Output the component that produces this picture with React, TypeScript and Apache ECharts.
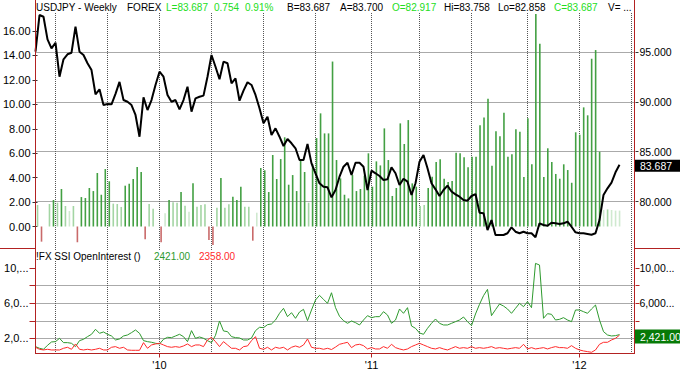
import React, { useEffect, useRef } from "react";
import * as echarts from "echarts";

// Weekly categories (Friday dated), starting 2009-05-29
const START = Date.UTC(2009, 4, 29);
const WEEK = 7 * 86400000;
const N_CAT = 151;
const weeks: string[] = Array.from({ length: N_CAT }, (_, i) =>
  new Date(START + i * WEEK).toISOString().slice(0, 10)
);

// USDJPY weekly close
const prices: number[] = [
  95.03, 98.71, 98.54, 96.27, 95.37, 95.93, 92.52, 94.27, 94.77, 94.93,
  97.54, 95.03, 94.7, 93.87, 93.19, 90.76, 91.26, 89.68, 89.78, 89.75,
  90.8, 92.0, 90.18, 90.01, 89.68, 88.68, 86.5, 90.45, 89.18, 90.18,
  91.69, 93.02, 92.52, 90.69, 90.01, 90.18, 89.25, 90.18, 91.52, 89.01,
  90.35, 90.51, 90.62, 92.52, 94.7, 93.52, 92.26, 94.03, 93.87, 91.86,
  92.36, 90.11, 91.12, 91.97, 91.69, 90.69, 89.35, 87.85, 88.51, 86.67,
  87.34, 86.5, 85.57, 86.27, 85.84, 85.34, 84.16, 84.16, 85.77, 83.83,
  82.83, 81.83, 81.48, 81.42, 80.42, 81.15, 82.49, 83.49, 83.89, 82.66,
  83.89, 83.89, 83.49, 81.15, 83.09, 82.83, 82.56, 82.16, 82.23, 83.43,
  82.83, 81.66, 82.29, 81.99, 80.65, 81.83, 83.99, 84.67, 83.33, 81.83,
  81.22, 80.55, 81.15, 81.59, 81.0, 80.72, 80.48, 80.15, 80.08, 80.55,
  80.75, 78.88, 78.82, 77.14, 78.14, 76.64, 76.64, 76.64, 76.81, 77.41,
  76.97, 76.81, 76.97, 76.81, 76.81, 76.41, 77.81, 77.64, 77.57, 77.87,
  77.81, 77.74, 77.81, 77.97, 77.47, 76.91, 76.81, 76.81, 76.74, 76.67,
  76.81, 78.14, 80.65, 81.32, 81.89, 82.93, 83.687,
];

// Histogram (left axis)
const histogram: number[] = [
  1.76, -1.24, 0, 1.84, 2.17, 1.95, 3.07, 1.68, 1.27, 1.68,
  -1.29, 2.41, 2.33, 3.15, 2.9, 4.38, 2.6, 4.7, 3.7, 1.87,
  1.84, 1.6, 3.34, 3.5, 3.89, 4.87, 4.46, -1.05, 1.84, 1.46,
  0, -1.29, 1.08, 2.17, 1.98, 1.95, 2.82, 1.7, 1.21, 3.53,
  1.62, 1.76, 1.82, -1.1, -1.51, 1.54, 3.97, 1.54, 1.82, 2.44,
  2.17, 3.26, 1.62, 1.62, -1.16, 1.13, 4.79, 4.6, 2.82, 5.85,
  3.89, 5.52, 7.3, 3.42, 4.21, 2.9, 5.44, 4.46, 1.95, 5.11,
  7.24, 9.26, 7.62, 7.62, 13.5, 5.44, 3.94, 2.6, 2.3, 4.21,
  2.9, 3.07, 4.16, 5.99, 3.26, 5.33, 5.0, 8.03, 5.44, 2.5,
  3.15, 8.44, 6.75, 8.71, 3.53, 3.26, 1.68, 1.76, 3.15, 4.08,
  5.28, 5.5, 3.91, 3.64, 3.72, 6.04, 5.99, 5.66, 4.84, 5.71,
  5.71, 8.28, 8.93, 10.46, 4.98, 7.79, 7.38, 9.31, 5.71, 5.91,
  7.95, 7.76, 4.05, 8.85, 5.09, 17.39, 14.96, 4.05, 6.4, 5.28,
  4.3, 3.91, 5.09, 4.62, 3.58, 7.71, 7.51, 9.75, 9.1, 13.73,
  14.44, 6.12, 1.35, 1.4, 1.35, 1.3, 1.3,
];

// FX SSI open interest
const oiLong: number[] = [
  1050, 860, 746, 1202, 1582, 1620, 2000, 1506, 1506, 1430,
  1050, 1734, 1886, 2190, 2456, 3026, 2570, 2722, 2456, 2266,
  1810, 1924, 2266, 2380, 2646, 2950, 2570, 1734, 1620, 1544,
  1430, 1354, 1886, 2114, 2076, 2266, 2456, 2190, 1620, 2874,
  2000, 2152, 2000, 1734, 1506, 2342, 3976, 2836, 2760, 2190,
  2076, 2038, 1810, 1810, 2038, 2874, 3254, 3216, 3558, 3634,
  4090, 4850, 5420, 4470, 4926, 4280, 5002, 5306, 4014, 5230,
  6370, 6902, 6446, 5990, 7200, 5500, 4508, 4014, 3710, 3976,
  3786, 3520, 4090, 4584, 4356, 4470, 4470, 5040, 4660, 3710,
  4090, 5344, 4850, 5496, 3406, 3140, 2608, 2456, 3140, 3710,
  4204, 3710, 3520, 3520, 3710, 3900, 4090, 4432, 3900, 3444,
  4774, 5876, 6864, 7586, 4584, 5268, 5914, 5686, 5344, 4850,
  5420, 5990, 5610, 6180, 5496, 10550, 10360, 4280, 4812, 4736,
  4090, 4166, 4356, 4090, 3900, 5230, 5230, 5040, 4850, 5344,
  5800, 4090, 2760, 2380, 2266, 2304, 2421,
];
const oiShort: number[] = [
  974, 746, 670, 746, 670, 670, 670, 860, 974, 746,
  1354, 746, 670, 746, 670, 746, 860, 670, 670, 974,
  1050, 860, 974, 670, 632, 632, 632, 1506, 860, 1240,
  1354, 1430, 1240, 1050, 974, 1050, 974, 1126, 1354, 1050,
  1240, 1240, 1050, 1810, 2114, 1620, 1050, 1620, 1240, 860,
  860, 670, 1050, 1126, 1734, 2190, 860, 746, 974, 670,
  974, 860, 974, 670, 974, 1126, 974, 1240, 1924, 974,
  860, 860, 746, 860, 720, 1000, 1316, 1430, 1544, 936,
  1240, 1316, 1164, 784, 936, 784, 784, 1050, 860, 1316,
  936, 784, 670, 784, 1050, 1240, 1430, 1240, 1050, 860,
  784, 936, 784, 670, 860, 1050, 860, 936, 860, 1050,
  860, 936, 860, 936, 1050, 860, 936, 860, 784, 860,
  936, 860, 1316, 784, 936, 784, 860, 936, 784, 936,
  1050, 936, 936, 860, 1164, 860, 670, 556, 480, 404,
  670, 1316, 1544, 1544, 1810, 2000, 2358,
];

const isQuarterStart = (d: string) => {
  const m = +d.slice(5, 7);
  const day = +d.slice(8, 10);
  return (m - 1) % 3 === 0 && day <= 7;
};
const isYearStart = (d: string) => d.slice(5, 7) === "01" && +d.slice(8, 10) <= 7;

const FONT = '"Liberation Sans", Arial, sans-serif';
const RED = "#b22222";
const GRID_LEFT = 35.5;
const GRID_W = 600;
const GRID_RIGHT = 680 - GRID_LEFT - GRID_W;

export default function App() {
  const ref = useRef<HTMLDivElement>(null);
  useEffect(() => {
    document.body.style.margin = "0";
    const chart = echarts.init(ref.current!, null, { renderer: "svg" });
    const dotted = { color: "#555", width: 1, type: "dotted" };
    const g = (top: number, height: number) => ({
      left: GRID_LEFT,
      right: GRID_RIGHT,
      top,
      height,
      containLabel: false,
    });
    const hiddenX = (gridIndex: number) => ({
      type: "category",
      gridIndex,
      data: weeks,
      boundaryGap: false,
      axisLine: { show: false },
      axisTick: { show: false },
      axisLabel: { show: false },
      splitLine: { show: false },
    });
    const quarterSplit = {
      show: true,
      interval: (_i: number, v: string) => isQuarterStart(v),
      lineStyle: dotted,
    };
    const option: any = {
      animation: false,
      textStyle: { fontFamily: FONT },
      grid: [g(13, 235.5), g(249, 104.5), g(31, 195.5), g(52, 149.5), g(268.2, 70.1)],
      xAxis: [
        {
          type: "category",
          gridIndex: 0,
          data: weeks,
          boundaryGap: false,
          axisLine: { show: false },
          axisTick: { show: false },
          axisLabel: { show: false },
          splitLine: quarterSplit,
        },
        {
          type: "category",
          gridIndex: 1,
          data: weeks,
          boundaryGap: false,
          axisLine: { show: false },
          axisTick: {
            show: true,
            interval: (_i: number, v: string) => isYearStart(v),
            length: 4,
            lineStyle: { color: RED },
          },
          axisLabel: {
            show: true,
            interval: (_i: number, v: string) => isYearStart(v),
            formatter: (v: string) => "'" + v.slice(2, 4),
            color: "#000",
            fontSize: 11,
            margin: 6,
          },
          splitLine: quarterSplit,
        },
        hiddenX(2),
        hiddenX(3),
        hiddenX(4),
      ],
      yAxis: [
        { type: "value", gridIndex: 0, min: 0, max: 1, axisLine: { show: false }, axisTick: { show: false }, axisLabel: { show: false }, splitLine: { show: false } },
        { type: "value", gridIndex: 1, min: 0, max: 1, axisLine: { show: false }, axisTick: { show: false }, axisLabel: { show: false }, splitLine: { show: false } },
        {
          type: "value",
          gridIndex: 2,
          position: "left",
          min: 0,
          max: 16,
          interval: 2,
          axisLine: { show: false },
          axisTick: { show: true, length: 5, lineStyle: { color: "#333" } },
          axisLabel: { formatter: (v: number) => v.toFixed(2), color: "#000", fontSize: 11, margin: 7 },
          splitLine: { show: false },
        },
        {
          type: "value",
          gridIndex: 3,
          position: "right",
          min: 80,
          max: 95,
          interval: 5,
          axisLine: { show: false },
          axisTick: { show: true, length: 3, lineStyle: { color: "#333" } },
          axisLabel: { formatter: (v: number) => v.toFixed(3), color: "#000", fontSize: 10.5, margin: 4 },
          splitLine: { show: true, lineStyle: dotted },
        },
        {
          type: "value",
          gridIndex: 4,
          position: "left",
          min: 2000,
          max: 10000,
          interval: 2000,
          axisLine: { show: false },
          axisTick: { show: true, length: 6, lineStyle: { color: RED } },
          axisLabel: {
            formatter: (v: number) =>
              v === 10000 ? "10,..." : v === 6000 ? "6,0..." : v === 2000 ? "2,0..." : "",
            color: "#000",
            fontSize: 11,
            margin: 7,
          },
          splitLine: { show: true, showMaxLine: false, lineStyle: dotted },
        },
        {
          type: "value",
          gridIndex: 4,
          position: "right",
          min: 2000,
          max: 10000,
          interval: 2000,
          axisLine: { show: false },
          axisTick: { show: true, length: 4, lineStyle: { color: RED } },
          axisLabel: {
            formatter: (v: number) => (v === 10000 ? "10,00..." : v === 6000 ? "6,000..." : ""),
            color: "#000",
            fontSize: 10.5,
            margin: 4,
          },
          splitLine: { show: false },
        },
      ],
      series: [
        {
          type: "bar",
          xAxisIndex: 2,
          yAxisIndex: 2,
          data: histogram,
          barWidth: 1.6,
          clip: false,
          itemStyle: {
            color: (p: any) => {
              const v = p.value as number;
              if (v < 0) return "#c96a6a";
              if (v < 1.4) return "#cfe9cf";
              if (v < 2) return "#a3d5a3";
              return "#43a043";
            },
          },
        },
        {
          type: "line",
          xAxisIndex: 3,
          yAxisIndex: 3,
          data: prices,
          symbol: "none",
          clip: false,
          lineStyle: { color: "#000", width: 2 },
        },
        {
          type: "line",
          xAxisIndex: 4,
          yAxisIndex: 4,
          data: oiLong,
          symbol: "none",
          clip: false,
          lineStyle: { color: "#2e9a2e", width: 1 },
        },
        {
          type: "line",
          xAxisIndex: 4,
          yAxisIndex: 4,
          data: oiShort,
          symbol: "none",
          clip: false,
          lineStyle: { color: "#ff2a2a", width: 1 },
        },
      ],
    };
    chart.setOption(option);

    const lastPrice = prices[prices.length - 1];
    const lastLong = oiLong[oiLong.length - 1];
    const lastShort = oiShort[oiShort.length - 1];
    const yP = chart.convertToPixel({ yAxisIndex: 3 } as any, lastPrice) as unknown as number;
    const yG = chart.convertToPixel({ yAxisIndex: 4 } as any, lastLong) as unknown as number;

    const line = (x1: number, y1: number, x2: number, y2: number) => ({
      type: "line",
      silent: true,
      z: 50,
      shape: { x1, y1, x2, y2 },
      style: { stroke: RED, lineWidth: 1 },
    });
    const txt = (text: string, x: number, y: number, fill: string, size = 10, bg?: string) => ({
      type: "text",
      x,
      y,
      z: 60,
      silent: true,
      style: {
        text,
        fill,
        font: `${size}px ${FONT}`,
        textVerticalAlign: "middle",
        verticalAlign: "middle",
        backgroundColor: bg,
      },
    });
    const GREEN_HDR = "#22dd22";
    const headerTop: [string, number, string][] = [
      ["USDJPY - Weekly", 36, "#000"],
      ["FOREX", 127, "#000"],
      ["L=" + lastPrice.toFixed(3), 166, GREEN_HDR],
      ["0.754", 214, GREEN_HDR],
      ["0.91%", 245, GREEN_HDR],
      ["B=83.687", 287, "#000"],
      ["A=83.700", 340, "#000"],
      ["O=82.917", 392, GREEN_HDR],
      ["Hi=83.758", 444, "#000"],
      ["Lo=82.858", 498, "#000"],
      ["C=" + lastPrice.toFixed(3), 554, GREEN_HDR],
      ["V= ...", 608, "#000"],
    ];
    const graphics: any[] = [
      line(35.5, 0, 35.5, 354),
      line(634.5, 0, 634.5, 354),
      line(35.5, 353.5, 634.5, 353.5),
      line(0, 248.5, 35.5, 248.5),
      line(634.5, 248.5, 680, 248.5),
      ...headerTop.map(([t, x, c]) => txt(t, x, 7, c, 10)),
      txt("!FX SSI OpenInterest ()", 36, 256, "#000", 10, "#fff"),
      txt(lastLong.toFixed(2), 154, 256, "#2e9a2e", 10, "#fff"),
      txt(lastShort.toFixed(2), 199, 256, "#ff2a2a", 10, "#fff"),
      {
        type: "rect",
        z: 55,
        silent: true,
        shape: { x: 635, y: yP - 5, width: 45, height: 12 },
        style: { fill: "#000" },
      },
      txt(lastPrice.toFixed(3), 640, yP + 1, "#fff", 10.5),
      {
        type: "rect",
        z: 55,
        silent: true,
        shape: { x: 635, y: yG - 5, width: 45, height: 14 },
        style: { fill: "#077a07" },
      },
      txt(
        lastLong.toLocaleString("en-US", { minimumFractionDigits: 2, maximumFractionDigits: 2 }),
        640,
        yG + 2,
        "#fff",
        10.5
      ),
    ];
    chart.setOption({ graphic: graphics });
    return () => chart.dispose();
  }, []);
  return (
    <div
      ref={ref}
      style={{ position: "fixed", left: 0, top: 0, width: 680, height: 373, background: "#fff" }}
    />
  );
}
